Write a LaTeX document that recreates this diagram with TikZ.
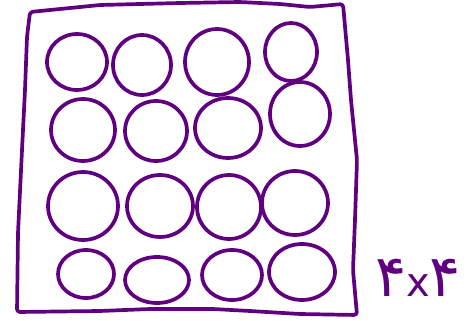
\documentclass[tikz,border=0pt]{standalone}
\usepackage{fontspec}
\newfontfamily\persianfont[Script=Arabic]{DejaVu Sans}
\usepackage{xcolor}
\usepackage{tikz}
\definecolor{pen}{RGB}{96,0,128}
\newcommand{\bigdigit}[1]{{\fontsize{58}{58}\selectfont #1}}

\begin{document}
\begin{tikzpicture}[x=1pt,y=-1pt,line width=3.7pt,line cap=round,line join=round]
\useasboundingbox (0,0) rectangle (475,321);
% hand drawn frame
\draw[pen,rounded corners=3pt] (30,12) -- (60,9) -- (100,5) -- (180,3) -- (240,2)
    -- (280,4) -- (310,7) -- (343,4)
    -- (348,60) -- (351,100) -- (357,160) -- (355,220) -- (353,270) -- (357,315)
    -- (300,314) -- (250,311) -- (213,309) -- (150,309) -- (100,311) -- (17,312)
    -- (18,233) -- (22,150) -- (25,90) -- (27,37) -- cycle;
% 4x4 grid of circles
\foreach \cx/\cy/\rx/\ry in {
    77/62/30/28, 142/65/29/30, 217/62/32/33, 291/52/26/29,
    83/130/32/31, 156/131/31/30, 228/128/33/30, 300/114/30/32,
    83/206/35/34, 160/206/33/31, 229/207/32/32, 295/203/33/32,
    86/274/28/24, 157/280/32/23, 232/275/30/25, 302/272/33/28} {
    \draw[pen] (\cx,\cy) ellipse [x radius=\rx, y radius=\ry];
}
% size label
\node[pen,font=\persianfont\fontsize{40}{40}\selectfont,inner sep=0pt] (size) at (418,278)
    {\bigdigit{۴}x\bigdigit{۴}};
\end{tikzpicture}
\end{document}
